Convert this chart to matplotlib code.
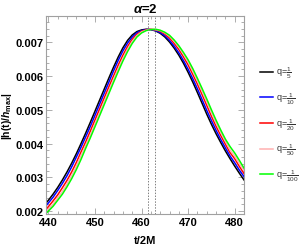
import matplotlib
matplotlib.use("Agg")
import matplotlib.pyplot as plt
from matplotlib.ticker import MultipleLocator

plt.rcParams['font.family'] = ['Liberation Sans', 'DejaVu Sans']
plt.rcParams['mathtext.fontset'] = 'custom'
plt.rcParams['mathtext.rm'] = 'Liberation Sans'
plt.rcParams['mathtext.bf'] = 'Liberation Sans:bold'
plt.rcParams['mathtext.it'] = 'Liberation Sans:italic:bold'

# time grid t/2M
t = [439, 440, 441, 442, 443, 444, 445, 446, 447, 448, 449, 450, 451, 452,
     453, 454, 455, 456, 457, 458, 459, 460, 461, 462, 463, 464, 465, 466,
     467, 468, 469, 470, 471, 472, 473, 474, 475, 476, 477, 478, 479, 480,
     481, 482]

# |h(t)/h_max| for each mass ratio
q5 = [.00216, .00232, .00250, .00270, .00292, .00316, .00342, .00370, .00400,
      .00431, .00463, .00496, .00529, .00562, .00595, .00627, .00657, .00684,
      .00706, .00722, .00732, .00737, .00739, .00738, .00734, .00727, .00716,
      .00701, .00683, .00662, .00638, .00611, .00582, .00551, .00519, .00487,
      .00457, .00429, .00403, .00378, .00355, .00333, .00312, .00292]
q10 = [.00208, .00224, .00241, .00261, .00282, .00305, .00331, .00360, .00389,
       .00420, .00451, .00484, .00517, .00550, .00583, .00616, .00647, .00675,
       .00698, .00716, .00729, .00735, .00738, .00738, .00735, .00729, .00720,
       .00706, .00689, .00669, .00646, .00620, .00592, .00562, .00530, .00498,
       .00468, .00439, .00412, .00387, .00363, .00343, .00321, .00302]
q20 = [.00198, .00213, .00230, .00248, .00269, .00291, .00316, .00344, .00375,
       .00405, .00437, .00470, .00503, .00536, .00569, .00601, .00633, .00662,
       .00688, .00709, .00724, .00733, .00737, .00739, .00737, .00733, .00725,
       .00713, .00697, .00679, .00657, .00633, .00605, .00576, .00545, .00513,
       .00481, .00451, .00424, .00398, .00373, .00355, .00332, .00311]
q50 = [.00192, .00205, .00220, .00239, .00258, .00280, .00305, .00332, .00364,
       .00394, .00425, .00458, .00491, .00524, .00557, .00590, .00622, .00652,
       .00680, .00703, .00720, .00731, .00736, .00739, .00738, .00735, .00728,
       .00718, .00703, .00686, .00665, .00642, .00615, .00586, .00555, .00524,
       .00492, .00461, .00433, .00407, .00381, .00363, .00341, .00320]
q100 = [.00186, .00200, .00214, .00232, .00250, .00272, .00296, .00323, .00353,
        .00386, .00417, .00450, .00483, .00516, .00549, .00582, .00614, .00645,
        .00673, .00697, .00716, .00728, .00735, .00738, .00739, .00736, .00730,
        .00721, .00707, .00690, .00670, .00648, .00622, .00593, .00563, .00532,
        .00500, .00469, .00440, .00413, .00391, .00372, .00350, .00327]

series = [q5, q10, q20, q50, q100]
labels = [r'q=$\mathregular{\frac{1}{5}}$', r'q=$\mathregular{\frac{1}{10}}$',
          r'q=$\mathregular{\frac{1}{20}}$', r'q=$\mathregular{\frac{1}{50}}$',
          r'q=$\mathregular{\frac{1}{100}}$']
colors = ['black', '#0000ff', '#ff0000', '#ffb0b0', '#00ff00']
peaks = [461.3, 462.8]

fig = plt.figure(figsize=(3.07, 2.51), dpi=100)
ax = fig.add_axes([0.150, 0.143, 0.645, 0.789])

for y, c, lab in zip(series, colors, labels):
    ax.plot(t, y, color=c, lw=1.1, label=lab)
for p in peaks:
    ax.axvline(p, color='#808080', lw=0.7, ls=(0, (1.5, 1.5)))

ax.set_xlim(439.5, 482)
ax.set_ylim(0.00191, 0.00778)
ax.xaxis.set_major_locator(MultipleLocator(10))
ax.xaxis.set_minor_locator(MultipleLocator(2))
ax.yaxis.set_major_locator(MultipleLocator(0.001))
ax.yaxis.set_minor_locator(MultipleLocator(0.0002))
ax.yaxis.set_major_formatter(lambda v, pos: f'{v:.3f}')
ax.tick_params(which='both', direction='in', top=True, right=True,
               color='#a0a0a0', width=0.6, labelsize=8, pad=2)
ax.tick_params(which='major', length=4)
ax.tick_params(which='minor', length=2)
for lbl in ax.get_xticklabels() + ax.get_yticklabels():
    lbl.set_fontweight('bold')
for s in ax.spines.values():
    s.set_color('#a0a0a0')
    s.set_linewidth(0.8)

ax.set_title(r'$\alpha$=2', fontsize=9.5, fontweight='bold', pad=3)
ax.set_xlabel('t/2M', fontsize=8, fontweight='bold', labelpad=6)
ax.set_ylabel(r'$\mathbf{|h(t)/}h_{\mathbf{max}}\mathbf{|}$', fontsize=7.5,
              labelpad=1)

leg = ax.legend(loc='upper left', bbox_to_anchor=(1.06, 0.77), frameon=False,
                fontsize=6.5, handlelength=1.5, labelspacing=1.15,
                handletextpad=0.3, borderaxespad=0)
for txt in leg.get_texts():
    txt.set_color('#333333')

fig.savefig('out.png', dpi=100)
